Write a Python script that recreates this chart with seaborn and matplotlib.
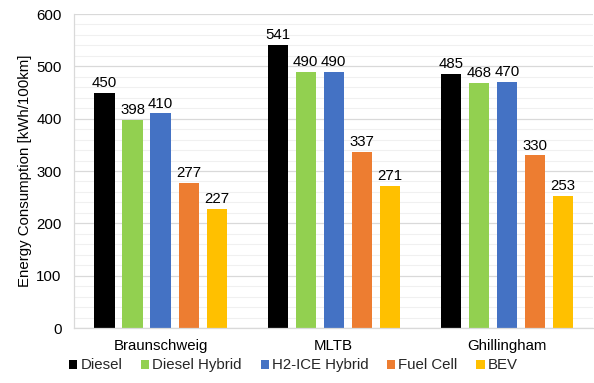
import matplotlib
matplotlib.use("Agg")
import matplotlib.pyplot as plt
import seaborn as sns
import pandas as pd
from matplotlib.ticker import MultipleLocator
from matplotlib.patches import Patch
from matplotlib.container import BarContainer

categories = ["Braunschweig", "MLTB", "Ghillingham"]
series = ["Diesel", "Diesel Hybrid", "H2-ICE Hybrid", "Fuel Cell", "BEV"]
diesel = [450, 541, 485]
diesel_hybrid = [398, 490, 468]
h2_ice_hybrid = [410, 490, 470]
fuel_cell = [277, 337, 330]
bev = [227, 271, 253]
colors = ["#000000", "#92D050", "#4472C4", "#ED7D31", "#FFC000"]

values = [diesel, diesel_hybrid, h2_ice_hybrid, fuel_cell, bev]
rows = []
for s, vals in zip(series, values):
    for c, v in zip(categories, vals):
        rows.append({"Site": c, "Powertrain": s, "Value": v})
df = pd.DataFrame(rows)

sns.set_theme(style="white")
plt.rcParams["font.family"] = ["Liberation Sans", "DejaVu Sans"]

FS = 10.8
fig = plt.figure(figsize=(5.94, 3.83), dpi=100)
ax = fig.add_axes([0.1246, 0.1436, 0.8744, 0.8198])

sns.barplot(data=df, x="Site", y="Value", hue="Powertrain", order=categories,
            hue_order=series, palette=colors, width=0.81, gap=0.28,
            saturation=1, ax=ax, legend=False, linewidth=0)

bar_conts = [c for c in ax.containers if isinstance(c, BarContainer)]
for cont, vals in zip(bar_conts, values):
    ax.bar_label(cont, labels=[str(v) for v in vals], padding=2,
                 fontsize=FS, color="#000000")

ax.set_ylim(0, 600)
ax.yaxis.set_major_locator(MultipleLocator(100))
ax.yaxis.set_minor_locator(MultipleLocator(20))
ax.grid(axis="y", which="major", color="#D9D9D9", linewidth=0.9)
ax.grid(axis="y", which="minor", color="#F0F0F0", linewidth=0.8)
ax.set_axisbelow(True)
for side in ["top", "right"]:
    ax.spines[side].set_visible(False)
ax.spines["left"].set_color("#D9D9D9")
ax.spines["bottom"].set_color("#D9D9D9")
ax.spines["left"].set_linewidth(0.9)
ax.spines["bottom"].set_linewidth(0.9)
ax.tick_params(axis="y", which="both", length=0, labelsize=FS, colors="#000000", pad=9)
ax.tick_params(axis="x", which="major", length=0, labelsize=FS, colors="#000000", pad=8)
ax.set_xlabel("")
ax.set_ylabel("Energy Consumption [kWh/100km]", fontsize=FS, color="#000000", labelpad=3)

handles = [Patch(facecolor=c, edgecolor="none") for c in colors]
fig.legend(handles, series, loc="center", bbox_to_anchor=(0.494, 0.046), ncol=5,
           frameon=False, fontsize=FS, handlelength=0.55, handleheight=0.55,
           handletextpad=0.2, columnspacing=1.25)

fig.savefig("out.png", dpi=100)
